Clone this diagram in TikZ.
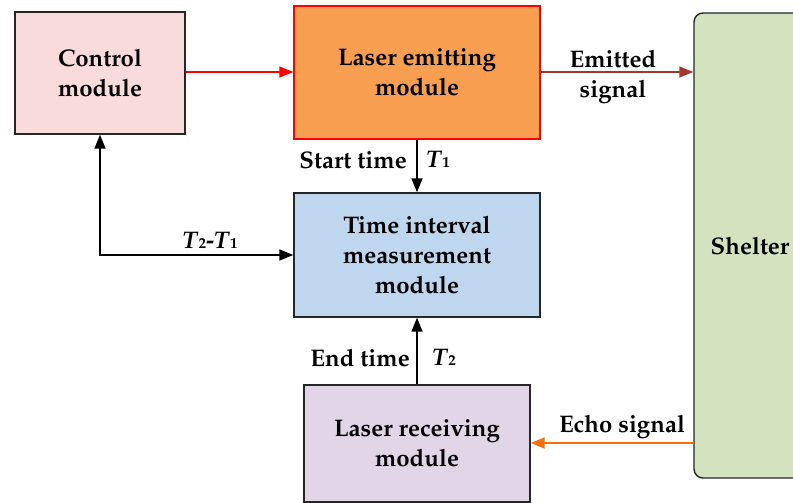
\documentclass[tikz,border=0pt]{standalone}
\usepackage[T1]{fontenc}
\usepackage{mathpazo}
\usetikzlibrary{arrows.meta}
\definecolor{ctrlfill}{HTML}{F8DBDA}
\definecolor{emitfill}{HTML}{F79E50}
\definecolor{timefill}{HTML}{BED6EE}
\definecolor{recvfill}{HTML}{E0D6E7}
\definecolor{shelfill}{HTML}{D5E2BF}
\definecolor{emitarrow}{HTML}{A5382C}
\definecolor{echoarrow}{HTML}{FA6E0A}
\newcommand{\Tsub}[1]{\textit{T}{\fontsize{15}{15}\selectfont #1}}
\tikzset{
  box/.style={draw=black!85, line width=1.4pt, align=center, inner sep=0pt,
    font=\fontsize{24}{30}\selectfont\bfseries},
  lbl/.style={align=center, inner sep=0pt, font=\fontsize{24}{30}\selectfont\bfseries},
  arr/.style={line width=1.5pt, -{Triangle[length=14pt,width=11pt]}},
  darr/.style={line width=1.5pt, {Triangle[length=14pt,width=11pt]}-{Triangle[length=14pt,width=11pt]}}
}
\begin{document}
\begin{tikzpicture}[x=1pt,y=-1pt]
\clip (0,0) rectangle (793,503);
\node[box, fill=ctrlfill, minimum width=170pt, minimum height=122pt] (ctrl) at (100,73) {Control\\module};
\node[box, fill=emitfill, draw=red, minimum width=246pt, minimum height=133pt] (emit) at (417,72.5) {Laser emitting\\module};
\node[box, fill=timefill, minimum width=246pt, minimum height=124pt] (time) at (417,255) {Time interval\\measurement\\module};
\node[box, fill=recvfill, minimum width=226pt, minimum height=117pt] (recv) at (417,443.5) {Laser receiving\\module};
\node[box, fill=shelfill, rounded corners=9pt, minimum width=112pt, minimum height=465pt] (shel) at (750,245.5) {Shelter};
\coordinate (c1) at (100,255);
\draw[arr, red] (ctrl.east |- 0,72) -- (emit.west |- 0,72);
\draw[arr, emitarrow] (emit.east |- 0,72) -- (shel.west |- 0,72);
\draw[arr, black] (emit.south) -- (time.north);
\draw[arr, black] (recv.north) -- (time.south);
\draw[darr, black] (ctrl.south) -- (c1) -- (time.west |- c1);
\draw[arr, echoarrow] (shel.west |- 0,443) -- (recv.east |- 0,443);
\node[lbl] (lemit) at (613,77) {Emitted\\signal};
\node[lbl, anchor=east] (lstart) at (407,160) {Start time};
\node[lbl, anchor=west] (lt1) at (426,160) {\Tsub{1}};
\node[lbl, anchor=east] (lend) at (410,358) {End time};
\node[lbl, anchor=west] (lt2) at (432,358) {\Tsub{2}};
\node[lbl] (ldiff) at (210,241) {\Tsub{2}-\Tsub{1}};
\node[lbl] (lecho) at (622,427) {Echo signal};
\end{tikzpicture}
\end{document}
